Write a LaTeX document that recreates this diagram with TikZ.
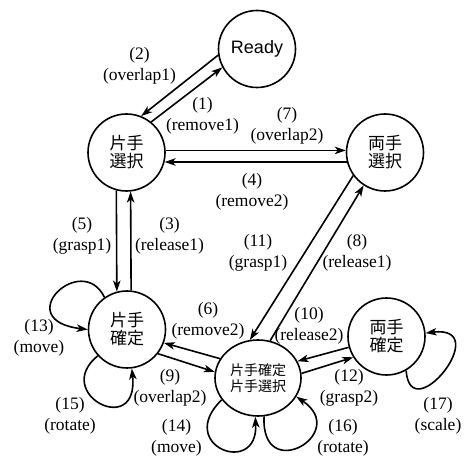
\documentclass[tikz,border=0pt]{standalone}
\usepackage{fontspec}
\setmainfont{Liberation Serif}
\newfontfamily\jpfont{Noto Sans CJK JP}
\newfontfamily\readyfont{Liberation Sans}
\usetikzlibrary{arrows.meta,shapes.geometric}

\begin{document}
\begin{tikzpicture}[x=1bp, y=1bp, line width=1.6bp,
    state/.style={circle, draw, minimum size=77bp, inner sep=0pt, align=center,
                  font=\jpfont\fontsize{17bp}{18bp}\selectfont},
    lbl/.style={align=center, inner sep=0pt, font=\fontsize{17.5bp}{21bp}\selectfont},
    arr/.style={-{Stealth[length=11bp,width=7.5bp,inset=3bp]}}]
\useasboundingbox (0,0) rectangle (465,458);

% states
\node[state, font=\readyfont\fontsize{18bp}{20bp}\selectfont] (ready) at (257,409) {Ready};
\node[state] (s1) at (126.5,305.5) {片手\\選択};
\node[state] (s2) at (385,305.5) {両手\\選択};
\node[state] (c1) at (127,128.5) {片手\\確定};
\node[state] (c2) at (386.5,121.5) {両手\\確定};
\node[ellipse, draw, minimum width=86bp, minimum height=76bp, inner sep=0pt, align=center,
      font=\jpfont\fontsize{14bp}{16.5bp}\selectfont] (m) at (258,80) {片手確定\\片手選択};

% transitions
\draw[arr] (s1.51) -- (ready.208);
\draw[arr] (ready.189) -- (s1.68);
\draw[arr] (c1.84.5) -- (s1.276);
\draw[arr] (s2.194) -- (s1.346);
\draw[arr] (s1.255.5) -- (c1.105);
\draw[arr] (m.153) -- (c1.340);
\draw[arr] (s1.3) -- (s2.177);
\draw[arr] (m.72) -- (s2.237);
\draw[arr] (c1.322) -- (m.172);
\draw[arr] (c2.196.6) -- (m.23);
\draw[arr] (s2.216.6) -- (m.102.5);
\draw[arr] (m.6.5) -- (c2.212.7);

% self loops
\draw[arr] (c1.125) to[out=116, in=173, out distance=52bp, in distance=79bp] (c1.180);
\draw[arr] (m.211) to[out=224, in=273, out distance=66bp, in distance=61bp] (m.266);
\draw[arr] (c1.222) to[out=219, in=276, out distance=60bp, in distance=71bp] (c1.277);
\draw[arr] (m.279) to[out=267, in=326, out distance=69bp, in distance=66bp] (m.334);
\draw[arr] (c2.300) to[out=274, in=7, out distance=60bp, in distance=70bp] (c2.5);

% labels
\node[lbl] (l1) at (202.5,342.5) {(1)\\(remove1)};
\node[lbl] (l2) at (139.5,392.5) {(2)\\(overlap1)};
\node[lbl] (l3) at (169.5,222.5) {(3)\\(release1)};
\node[lbl] (l4) at (252,266) {(4)\\(remove2)};
\node[lbl] (l5) at (82,222.5) {(5)\\(grasp1)};
\node[lbl] (l6) at (208,137.5) {(6)\\(remove2)};
\node[lbl] (l7) at (287,332.5) {(7)\\(overlap2)};
\node[lbl] (l8) at (357,205.5) {(8)\\(release1)};
\node[lbl] (l9) at (170,70.5) {(9)\\(overlap2)};
\node[lbl] (l10) at (309,132.5) {(10)\\(release2)};
\node[lbl] (l11) at (258,205.5) {(11)\\(grasp1)};
\node[lbl] (l12) at (349,70.5) {(12)\\(grasp2)};
\node[lbl] (l13) at (39,120.5) {(13)\\(move)};
\node[lbl] (l14) at (176.5,20) {(14)\\(move)};
\node[lbl] (l15) at (70,42) {(15)\\(rotate)};
\node[lbl] (l16) at (343,20) {(16)\\(rotate)};
\node[lbl] (l17) at (438,42) {(17)\\(scale)};
\end{tikzpicture}
\end{document}
